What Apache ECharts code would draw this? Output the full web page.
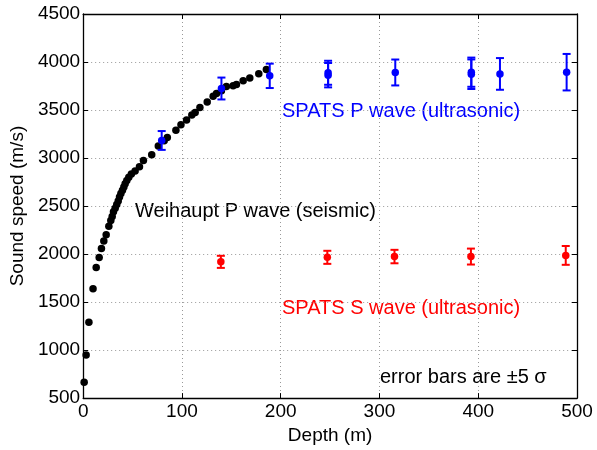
<!DOCTYPE html>
<html>
<head>
<meta charset="utf-8">
<script src="https://cdn.jsdelivr.net/npm/echarts@6/dist/echarts.min.js"></script>
<style>html,body{margin:0;padding:0;background:#fff}#c{width:597px;height:450px}</style>
</head>
<body>
<div id="c"></div>
<script>
var weihauptP = [
  [1, 665], [3, 950], [5.8, 1290], [10, 1640], [13.2, 1860], [16.2, 1965], [18.5, 2057],
  [20.9, 2136], [23.3, 2200], [26, 2290], [28, 2350], [29.4, 2390], [30.7, 2440],
  [32.4, 2476], [34, 2515], [35.5, 2553], [36.8, 2594], [38.2, 2630], [39.8, 2664],
  [41.2, 2698], [42.5, 2732], [44.2, 2767], [46.2, 2801], [48.8, 2835], [52.6, 2865],
  [57, 2908], [61, 2975], [69.4, 3034], [76.1, 3126], [82, 3180], [85.2, 3213],
  [93.9, 3289], [99, 3346], [104.7, 3396], [110, 3447], [113.4, 3475], [118.2, 3525],
  [125.6, 3583], [131.6, 3644], [135, 3671], [140, 3700], [145, 3744], [151.8, 3754],
  [155.2, 3767], [162, 3804], [168.7, 3834], [177.8, 3878], [185.5, 3921]
];
// [depth, speed, error(5 sigma)]
var spatsP = [
  [79.5, 3183, 98], [140, 3724, 114], [188.9, 3856, 127], [248, 3888, 125], [248, 3863, 127],
  [316, 3891, 135], [393, 3894, 152], [393, 3873, 154], [422, 3876, 165], [489.5, 3894, 190]
];
var spatsS = [
  [139.4, 1919, 63], [247.2, 1966, 68], [315.2, 1974, 70], [392.6, 1974, 83], [488.6, 1986, 98]
];
var xTicks = { min: 0, max: 500, interval: 100 };
var yTicks = { min: 500, max: 4500, interval: 500 };

var FONT = 'Liberation Sans, Arial, Helvetica, sans-serif';

function errRender(color) {
  return function (params, api) {
    var x = api.value(0), y = api.value(1), e = api.value(2);
    var top = api.coord([x, y + e]);
    var bot = api.coord([x, y - e]);
    var w = 4;
    var st = { stroke: color, lineWidth: 2 };
    return {
      type: 'group',
      children: [
        { type: 'line', shape: { x1: top[0], y1: top[1], x2: bot[0], y2: bot[1] }, style: st },
        { type: 'line', shape: { x1: top[0] - w, y1: top[1], x2: top[0] + w, y2: top[1] }, style: st },
        { type: 'line', shape: { x1: bot[0] - w, y1: bot[1], x2: bot[0] + w, y2: bot[1] }, style: st }
      ]
    };
  };
}

var chart = echarts.init(document.getElementById('c'), null, { renderer: 'canvas' });

var axisCommon = {
  axisLine: { show: true, onZero: false, lineStyle: { color: '#000', width: 1.3 } },
  axisTick: { show: true, inside: true, length: 5, lineStyle: { color: '#000' } },
};
function plain(v) { return String(v); }

chart.setOption({
  animation: false,
  grid: { left: 83, right: 20, top: 14, bottom: 43 },
  xAxis: [
    Object.assign({
      type: 'value', min: xTicks.min, max: xTicks.max, interval: xTicks.interval, position: 'bottom',
      name: 'Depth (m)', nameLocation: 'middle', nameGap: 21,
      nameTextStyle: { color: '#000', fontSize: 19, fontFamily: FONT },
      axisLabel: { color: '#000', fontSize: 19, fontFamily: FONT, margin: 4, formatter: plain },
      splitLine: { show: true, lineStyle: { color: '#999', type: [1, 3], width: 1 } }
    }, axisCommon),
    Object.assign({
      type: 'value', min: xTicks.min, max: xTicks.max, interval: xTicks.interval, position: 'top',
      axisLabel: { show: false }, splitLine: { show: false }
    }, axisCommon)
  ],
  yAxis: [
    Object.assign({
      type: 'value', min: yTicks.min, max: yTicks.max, interval: yTicks.interval, position: 'left',
      name: 'Sound speed (m/s)', nameLocation: 'middle', nameGap: 50, nameRotate: 90,
      nameTextStyle: { color: '#000', fontSize: 19, fontFamily: FONT },
      axisLabel: { color: '#000', fontSize: 19, fontFamily: FONT, margin: 3, formatter: plain },
      splitLine: { show: true, lineStyle: { color: '#999', type: [1, 3], width: 1 } }
    }, axisCommon),
    Object.assign({
      type: 'value', min: yTicks.min, max: yTicks.max, interval: yTicks.interval, position: 'right',
      axisLabel: { show: false }, splitLine: { show: false }
    }, axisCommon)
  ],
  series: [
    { type: 'scatter', name: 'Weihaupt', data: weihauptP, symbolSize: 7.5, itemStyle: { color: '#000', opacity: 1 }, z: 3 },
    { type: 'custom', name: 'SPATS P err', data: spatsP, renderItem: errRender('#0000ff'), z: 4 },
    { type: 'scatter', name: 'SPATS P', data: spatsP.map(function (d) { return [d[0], d[1]]; }), symbolSize: 7.5, itemStyle: { color: '#0000ff', opacity: 1 }, z: 5 },
    { type: 'custom', name: 'SPATS S err', data: spatsS, renderItem: errRender('#ff0000'), z: 4 },
    { type: 'scatter', name: 'SPATS S', data: spatsS.map(function (d) { return [d[0], d[1]]; }), symbolSize: 7.5, itemStyle: { color: '#ff0000', opacity: 1 }, z: 5 }
  ],
  graphic: [
    { type: 'text', left: 135, top: 201, style: { text: 'Weihaupt P wave (seismic)', fill: '#000', font: '20px ' + FONT } },
    { type: 'text', left: 282, top: 101, style: { text: 'SPATS P wave (ultrasonic)', fill: '#0000ff', font: '20px ' + FONT } },
    { type: 'text', left: 282, top: 298, style: { text: 'SPATS S wave (ultrasonic)', fill: '#ff0000', font: '20px ' + FONT } },
    { type: 'text', left: 380, top: 367, style: { text: 'error bars are \u00b15 \u03c3', fill: '#000', font: '20px ' + FONT } }
  ]
});
</script>
</body>
</html>
